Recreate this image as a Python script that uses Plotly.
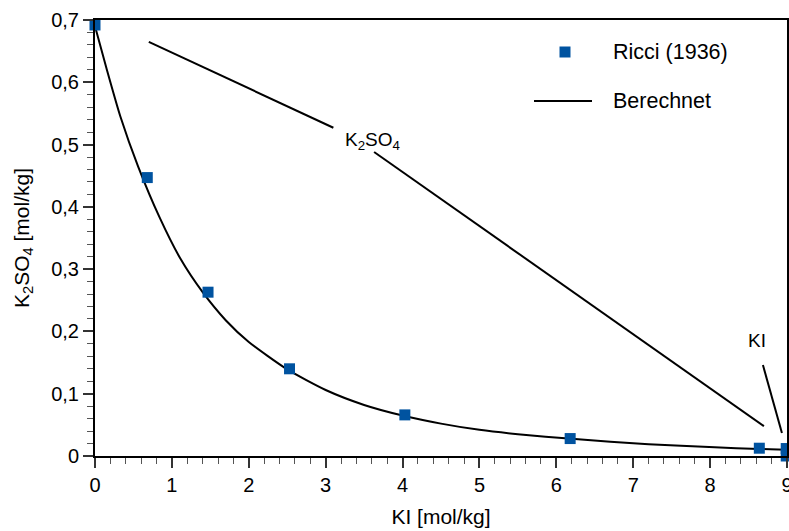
import plotly.graph_objects as go

# Measured solubility data (Ricci, 1936): KI and K2SO4 in mol/kg
ricci_ki = [0.0, 0.68, 1.47, 2.53, 4.03, 6.18, 8.64, 8.99, 8.99]
ricci_k2so4 = [0.692, 0.447, 0.263, 0.140, 0.066, 0.028, 0.0125, 0.012, 0.0]

# Calculated solubility curve
calc_ki = [0.0, 0.15, 0.33, 0.56, 0.84, 1.11, 1.4, 1.7, 2.0, 2.5, 3.0,
           3.5, 4.0, 4.5, 5.0, 5.5, 6.2, 7.2, 8.06, 8.64, 8.99]
calc_k2so4 = [0.69, 0.622, 0.545, 0.465, 0.383, 0.317, 0.263, 0.218, 0.183, 0.139, 0.106,
              0.082, 0.065, 0.052, 0.042, 0.035, 0.0275, 0.019, 0.014, 0.0112, 0.0100]

# Axis ticks
x_ticks = [0, 1, 2, 3, 4, 5, 6, 7, 8, 9]
x_tick_labels = ["0", "1", "2", "3", "4", "5", "6", "7", "8", "9"]
y_ticks = [0, 0.1, 0.2, 0.3, 0.4, 0.5, 0.6, 0.7]
y_tick_labels = ["0", "0,1", "0,2", "0,3", "0,4", "0,5", "0,6", "0,7"]

# Phase field labels and their leader lines (data coordinates)
k2so4_label_pos = (3.61, 0.506)
k2so4_leader = [((0.70, 0.665), (3.10, 0.527)), ((3.63, 0.488), (8.70, 0.048))]
ki_label_pos = (8.61, 0.186)
ki_leader = [((8.687, 0.146), (8.934, 0.037))]

FONT = "Arial, Liberation Sans, sans-serif"
BLUE = "#0053A0"

fig = go.Figure()

fig.add_trace(go.Scatter(
    x=calc_ki, y=calc_k2so4, mode="lines", name="Berechnet",
    line=dict(color="black", width=2, shape="spline", smoothing=0.6),
    showlegend=False,
))
fig.add_trace(go.Scatter(
    x=ricci_ki, y=ricci_k2so4, mode="markers", name="Ricci (1936)",
    marker=dict(symbol="square", size=11, color=BLUE, line=dict(width=0)),
    cliponaxis=False, showlegend=False,
))

shapes = []
for (x0, y0), (x1, y1) in k2so4_leader + ki_leader:
    shapes.append(dict(type="line", xref="x", yref="y", x0=x0, y0=y0, x1=x1, y1=y1,
                       line=dict(color="black", width=2)))

# Legend keys
shapes.append(dict(type="rect", xref="paper", yref="paper",
                   x0=(559.5 - 95) / 692, x1=(570.5 - 95) / 692,
                   y0=(456 - 57.5) / 436, y1=(456 - 46.5) / 436,
                   fillcolor=BLUE, line=dict(width=0)))
shapes.append(dict(type="line", xref="paper", yref="paper",
                   x0=(534 - 95) / 692, x1=(592 - 95) / 692,
                   y0=(456 - 101) / 436, y1=(456 - 101) / 436,
                   line=dict(color="black", width=2)))

annotations = [
    dict(x=k2so4_label_pos[0], y=k2so4_label_pos[1], xref="x", yref="y",
         text="K<sub>2</sub>SO<sub>4</sub>", showarrow=False,
         font=dict(family=FONT, size=19, color="black")),
    dict(x=ki_label_pos[0], y=ki_label_pos[1], xref="x", yref="y",
         text="KI", showarrow=False,
         font=dict(family=FONT, size=19, color="black")),
    dict(x=(611 - 95) / 692, y=(456 - 52) / 436, xref="paper", yref="paper",
         text="Ricci (1936)", showarrow=False, xanchor="left", yanchor="middle",
         font=dict(family=FONT, size=21.5, color="black")),
    dict(x=(611 - 95) / 692, y=(456 - 101) / 436, xref="paper", yref="paper",
         text="Berechnet", showarrow=False, xanchor="left", yanchor="middle",
         font=dict(family=FONT, size=21.5, color="black")),
]

fig.update_layout(
    width=789, height=531,
    margin=dict(l=95, r=2, t=20, b=75),
    paper_bgcolor="white", plot_bgcolor="white",
    font=dict(family=FONT, size=20, color="black"),
    shapes=shapes, annotations=annotations,
    showlegend=False,
)

fig.update_xaxes(
    range=[0, 9], tickvals=x_ticks, ticktext=x_tick_labels,
    showgrid=False, zeroline=False,
    showline=True, linecolor="black", linewidth=2, mirror=True,
    ticks="outside", ticklen=10, tickwidth=1.5, tickcolor="#333",
    minor=dict(dtick=0.2, ticks="outside", ticklen=6, tickwidth=1, tickcolor="#555"),
    tickfont=dict(family=FONT, size=20), ticklabeloverflow="allow",
    title=dict(text="KI [mol/kg]", font=dict(family=FONT, size=21), standoff=14),
    automargin=False,
)
fig.update_yaxes(
    range=[0, 0.7], tickvals=y_ticks, ticktext=y_tick_labels,
    showgrid=False, zeroline=False,
    showline=True, linecolor="black", linewidth=2, mirror=True,
    ticks="outside", ticklen=10, tickwidth=1.5, tickcolor="#333",
    minor=dict(dtick=0.02, ticks="outside", ticklen=6, tickwidth=1, tickcolor="#555"),
    tickfont=dict(family=FONT, size=20), ticklabeloverflow="allow",
    title=dict(text="K<sub>2</sub>SO<sub>4</sub> [mol/kg]", font=dict(family=FONT, size=21), standoff=16),
    automargin=False,
)

fig.write_html("out.html")
